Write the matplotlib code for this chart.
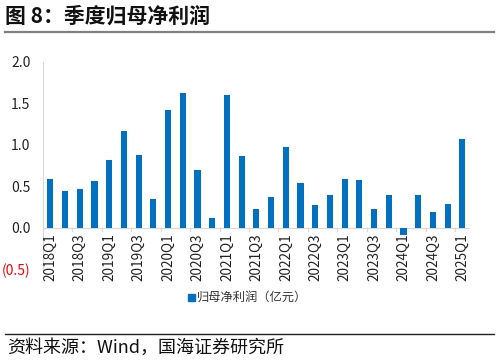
import matplotlib
matplotlib.use("Agg")
import matplotlib.pyplot as plt
from matplotlib.lines import Line2D
from matplotlib.patches import Rectangle

plt.rcParams['font.family'] = ['Noto Sans CJK SC', 'DejaVu Sans']

quarters = ["2018Q1", "2018Q2", "2018Q3", "2018Q4",
            "2019Q1", "2019Q2", "2019Q3", "2019Q4",
            "2020Q1", "2020Q2", "2020Q3", "2020Q4",
            "2021Q1", "2021Q2", "2021Q3", "2021Q4",
            "2022Q1", "2022Q2", "2022Q3", "2022Q4",
            "2023Q1", "2023Q2", "2023Q3", "2023Q4",
            "2024Q1", "2024Q2", "2024Q3", "2024Q4",
            "2025Q1"]
profit = [0.59, 0.44, 0.47, 0.56,
          0.82, 1.16, 0.88, 0.35,
          1.42, 1.62, 0.69, 0.12,
          1.60, 0.86, 0.23, 0.37,
          0.97, 0.54, 0.27, 0.39,
          0.59, 0.57, 0.22, 0.39,
          -0.09, 0.39, 0.19, 0.29,
          1.07]
y_ticks = [-0.5, 0.0, 0.5, 1.0, 1.5, 2.0]
y_tick_labels = ["(0.5)", "0.0", "0.5", "1.0", "1.5", "2.0"]

title = "图 8：季度归母净利润"
series_name = "归母净利润（亿元）"
source = "资料来源：Wind，国海证券研究所"

blue = "#0070C0"

fig = plt.figure(figsize=(4.98, 3.62), dpi=100)
ax = fig.add_axes([0.0863, 0.257, 0.857, 0.572])

x = list(range(len(quarters)))
ax.bar(x, profit, width=0.42, color=blue, zorder=3)

ax.set_xlim(-0.5, len(quarters) - 0.5)
ax.set_ylim(-0.5, 2.0)
ax.set_yticks(y_ticks)
ax.set_yticklabels(y_tick_labels, fontsize=10)
for lbl, v in zip(ax.get_yticklabels(), y_ticks):
    lbl.set_color("#FF0000" if v < 0 else "#222222")
ax.tick_params(axis='y', length=0, pad=9)

for s in ["top", "right", "bottom"]:
    ax.spines[s].set_visible(False)
ax.spines["left"].set_color("#D9D9D9")
ax.spines["left"].set_linewidth(0.8)

# category axis at zero
ax.axhline(0, color="#D9D9D9", linewidth=0.9, zorder=2)
ax.set_xticks([])
for i in range(0, len(quarters) + 1, 2):
    ax.plot([i - 0.5, i - 0.5], [0, -0.045], color="#D9D9D9", linewidth=0.9,
            clip_on=False, zorder=2)
for i in range(0, len(quarters), 2):
    ax.text(i, -0.07, quarters[i], rotation=90, ha="center", va="top",
            fontsize=9.8, color="#222222")

# legend
fig.patches.append(Rectangle((188 / 498, 1 - 301 / 362), 7 / 498, 7 / 362,
                             transform=fig.transFigure, color=blue))
fig.text(197 / 498, 1 - 297 / 362, series_name, fontsize=8.8, va="center",
         ha="left", color="#333333")

# title and rules
fig.text(5 / 498, 1 - 16 / 362, title, fontsize=15, fontweight="bold",
         va="center", ha="left", color="#111111")
fig.add_artist(Line2D([5 / 498, 494 / 498], [1 - 32 / 362, 1 - 32 / 362],
                      transform=fig.transFigure, color="#7F7F7F", linewidth=1.6))
fig.add_artist(Line2D([5 / 498, 494 / 498], [1 - 334 / 362, 1 - 334 / 362],
                      transform=fig.transFigure, color="#222222", linewidth=1.0))
fig.text(7 / 498, 1 - 348 / 362, source, fontsize=13, va="center", ha="left",
         color="#111111")

fig.savefig("out.png", dpi=100)
